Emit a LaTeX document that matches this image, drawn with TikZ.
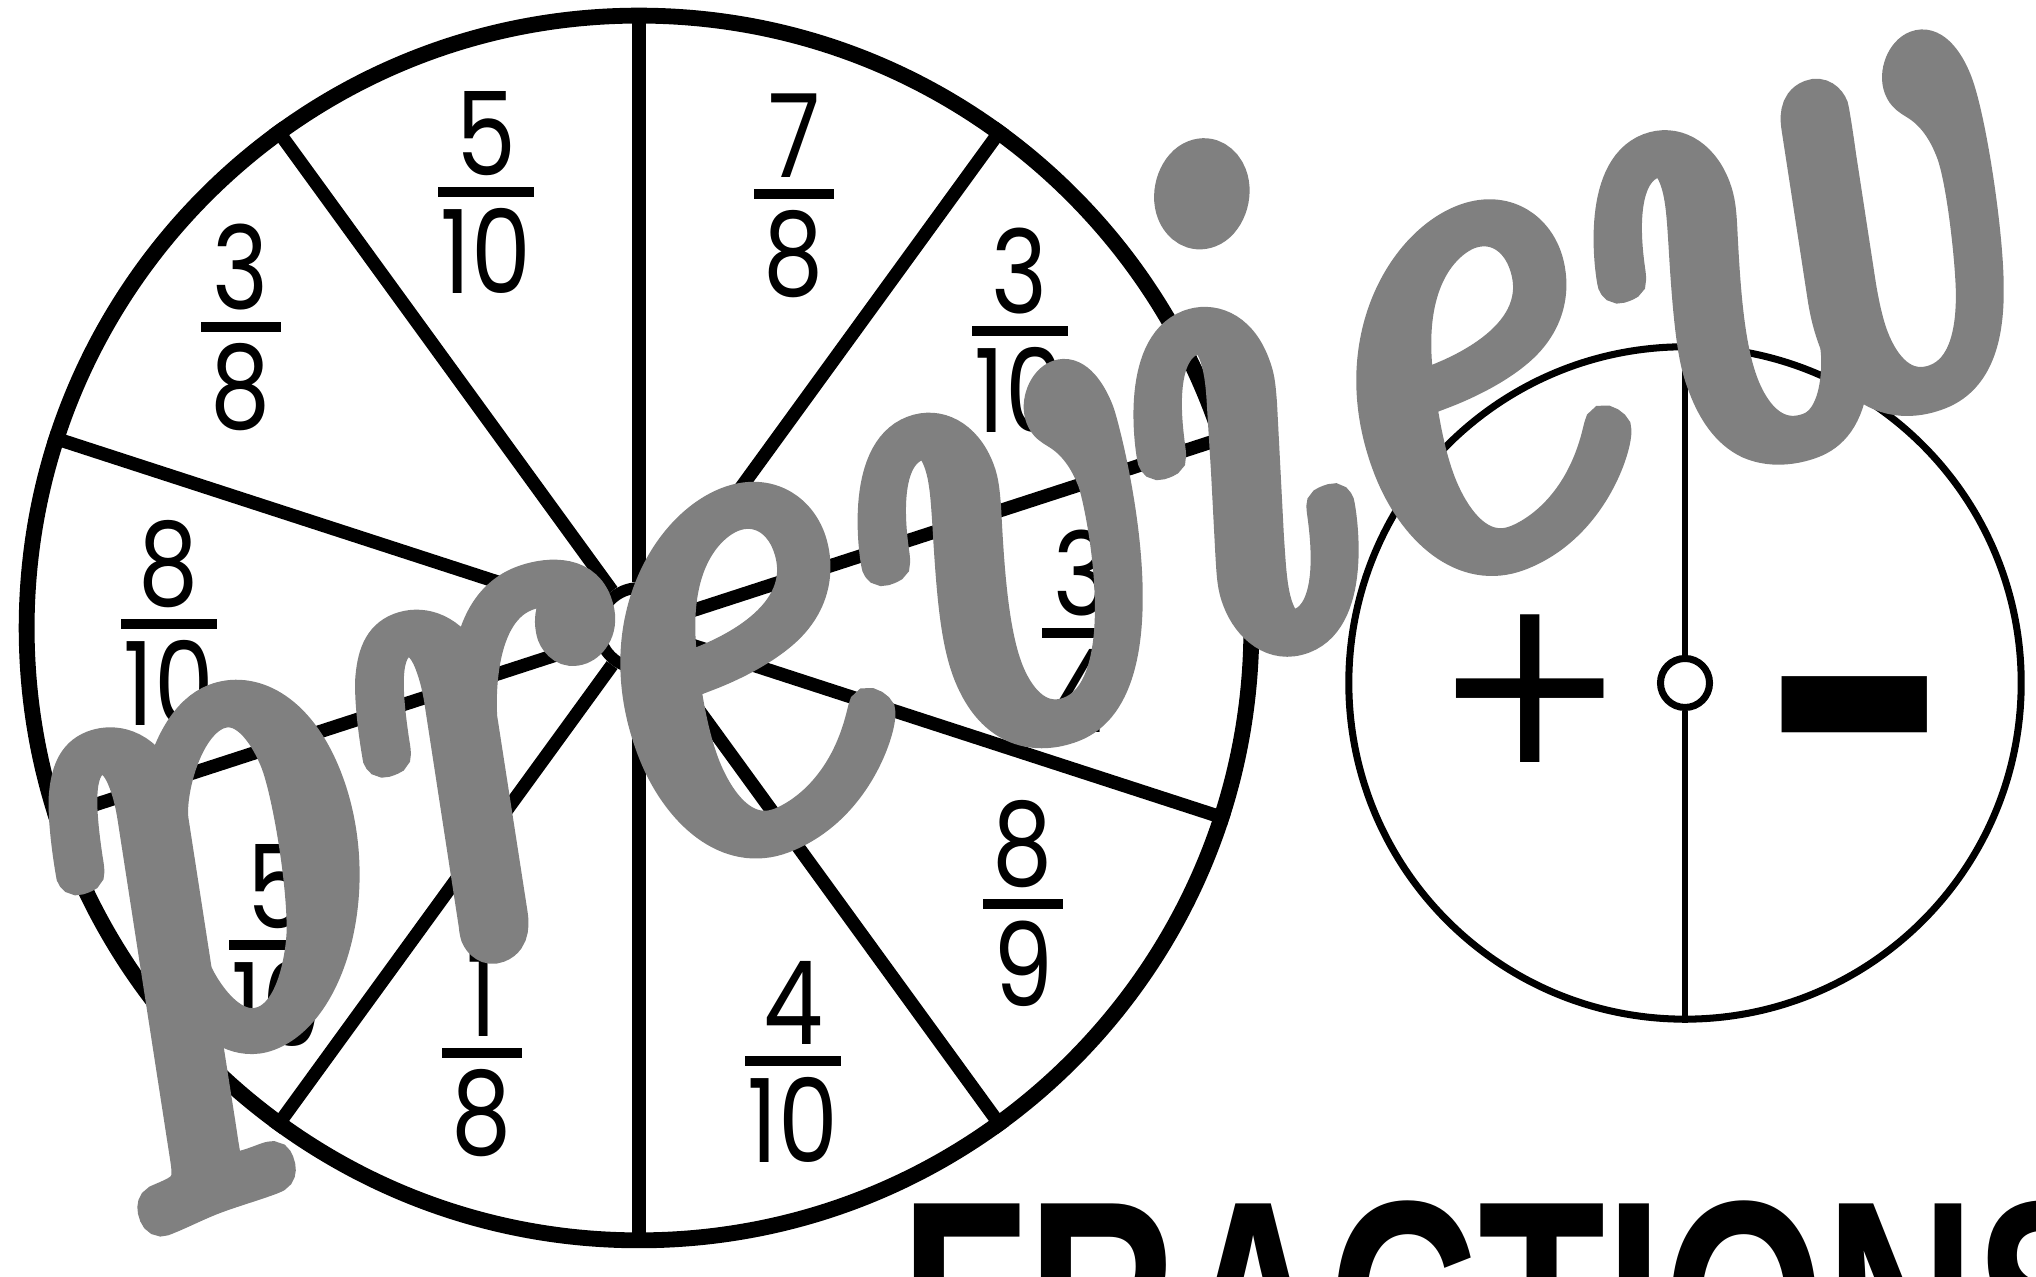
\documentclass[tikz,border=0pt]{standalone}
\usepackage{fontspec}
\setmainfont{Poppins}[FakeStretch=0.82]
\newfontfamily\signfont{DejaVu Sans}
\newfontfamily\titlefont[FakeStretch=0.696]{Liberation Sans}
\newfontfamily\markfont[FakeBold=4,FakeStretch=0.87]{lmroman10-italic.otf}
\usetikzlibrary{positioning}
\definecolor{markgray}{HTML}{808080}
\tikzset{
	rim/.style={circle, draw=black, line width=4.5pt, inner sep=0pt},
	hubring/.style={circle, draw=black, fill=white, line width=3.3pt, inner sep=0pt},
	spoke/.style={line width=3.8pt},
	fracdigit/.style={inner sep=0pt, font=\fontsize{33}{40}\selectfont},
	fracbar/.style={fill=black, inner sep=0pt, minimum height=2.6pt},
	dialrim/.style={circle, draw=black, line width=2pt, inner sep=0pt},
	dialhub/.style={circle, draw=black, fill=white, line width=2pt, inner sep=0pt},
	divider/.style={line width=1.7pt},
	signtext/.style={inner sep=0pt, font=\signfont\fontsize{67}{70}\selectfont},
	titletext/.style={inner sep=0pt, font=\titlefont\bfseries\fontsize{85}{90}\selectfont},
	watermark/.style={inner sep=0pt, text=markgray, font=\markfont\fontsize{210}{220}\selectfont}
}
\newlength\fracw
\newcommand{\spinfrac}[4]{%
	\ifnum#4>9 \setlength\fracw{0.95cm}\else\setlength\fracw{0.8cm}\fi
	\node[fracbar, minimum width=\fracw] (#1) at (#2) {};
	\node[fracdigit, above=3pt of #1] (#1-num) {#3};
	\node[fracdigit, below=3pt of #1] (#1-den) {#4};
}

\begin{document}
\begin{tikzpicture}[x=0.01cm, y=0.01cm]
	\useasboundingbox (0,0) rectangle (2036,1277);
	\fill[white] (0,0) rectangle (2036,1277);
	\clip (0,0) rectangle (2036,1277);

	\node[rim, minimum size=12.24cm] (wheel) at (639,649) {};
	\node[hubring, minimum size=0.8cm] (hub) at (639,649) {};
	\foreach \a in {18,54,...,342}
		\draw[spoke] (hub.\a) -- (wheel.\a);

	\spinfrac{f1}{486,1085}{5}{10}
	\spinfrac{f2}{794,1083}{7}{8}
	\spinfrac{f3}{1020,946}{3}{10}
	\spinfrac{f4}{1082,644}{3}{4}
	\spinfrac{f5}{1023,373}{8}{9}
	\spinfrac{f6}{793,216}{4}{10}
	\spinfrac{f7}{482,224}{1}{8}
	\spinfrac{f8}{277,332}{5}{10}
	\spinfrac{f9}{169,653}{8}{10}
	\spinfrac{f10}{241,950}{3}{8}

	\node[dialrim, minimum size=6.72cm] (dial) at (1685,594) {};
	\node[dialhub, minimum size=0.49cm] (dialhub) at (1685,594) {};
	\draw[divider] (dialhub.north) -- (dial.north);
	\draw[divider] (dialhub.south) -- (dial.south);
	\node[signtext] (plus) at (1530,588) {+};
	\node[signtext, font=\signfont\bfseries\fontsize{66}{70}\selectfont, yscale=2.1] (minus) at (1855,510) {−};

	\node[titletext, anchor=north west] (title) at (900,77) {FRACTIONS};

	\node[watermark, rotate=21, anchor=base] (mark) at (1067,556) {preview};
\end{tikzpicture}
\end{document}
